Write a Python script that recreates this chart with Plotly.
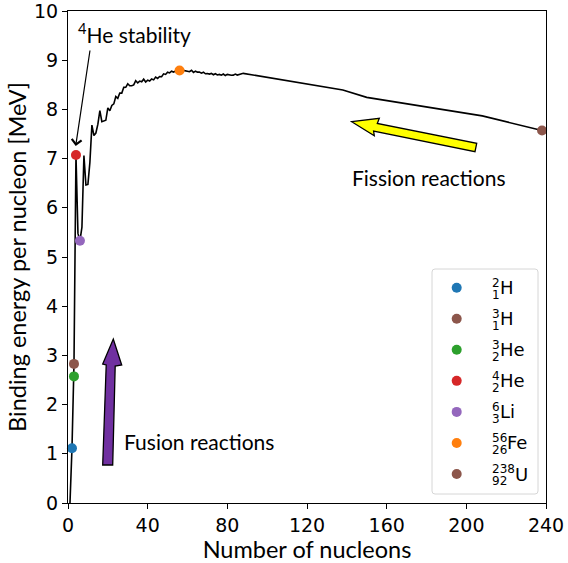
import plotly.graph_objects as go

# ---------------- data ----------------
# Binding energy per nucleon (MeV) vs mass number A (most bound nuclide per A)
mass_number = list(range(1, 89)) + [138, 150, 208, 238]
be_per_nucleon = [
    0.000, 1.112, 2.827, 7.074, 5.480, 5.332, 5.606, 7.062, 6.463, 6.475,
    6.928, 7.680, 7.470, 7.520, 7.699, 7.976, 7.751, 7.767, 7.779, 8.032,
    7.972, 8.080, 8.112, 8.261, 8.224, 8.334, 8.332, 8.448, 8.449, 8.521,
    8.481, 8.482, 8.498, 8.584, 8.538, 8.576, 8.560, 8.614, 8.557, 8.595,
    8.576, 8.617, 8.600, 8.658, 8.630, 8.669, 8.665, 8.723, 8.711, 8.756,
    8.742, 8.776, 8.760, 8.778, 8.765, 8.790, 8.770, 8.792, 8.780, 8.781,
    8.765, 8.795, 8.752, 8.777, 8.757, 8.760, 8.737, 8.756, 8.724, 8.729,
    8.718, 8.732, 8.705, 8.725, 8.701, 8.711, 8.695, 8.718, 8.688, 8.711,
    8.696, 8.693, 8.696, 8.717, 8.698, 8.712, 8.711, 8.733,
    8.393, 8.245, 7.868, 7.570,
]

iso_mass = ["2", "3", "3", "4", "6", "56", "238"]
iso_z = ["1", "1", "2", "2", "3", "26", "92"]
iso_sym = ["H", "H", "He", "He", "Li", "Fe", "U"]
iso_A = [2, 3, 3, 4, 6, 56, 238]
iso_be = [1.112, 2.827, 2.573, 7.074, 5.332, 8.790, 7.570]
iso_colors = ["#1f77b4", "#8c564b", "#2ca02c", "#d62728", "#9467bd", "#ff7f0e", "#8c564b"]

x_ticks = [0, 40, 80, 120, 160, 200, 240]
y_ticks = list(range(0, 11))

# ---------------- layout geometry ----------------
W, H = 568, 563
L, R, T, B = 68, 22, 11, 60
PW, PH = W - L - R, H - T - B


def px(x):
    return (x - L) / PW


def py(y):
    return (H - B - y) / PH


fig = go.Figure()

fig.add_trace(go.Scatter(
    x=mass_number, y=be_per_nucleon, mode="lines",
    line=dict(color="black", width=1.6), showlegend=False, hoverinfo="skip",
))

for A, be, c, m, z, s in zip(iso_A, iso_be, iso_colors, iso_mass, iso_z, iso_sym):
    fig.add_trace(go.Scatter(
        x=[A], y=[be], mode="markers",
        marker=dict(color=c, size=10, line=dict(width=0)),
        name=f"{m}-{s}", showlegend=False, cliponaxis=False,
    ))

shapes = []
annotations = []

# Fusion arrow (purple)
fus = [(102.7, 465), (112.7, 465), (115.2, 366), (121.7, 365), (113.3, 339),
       (102.7, 364), (106.2, 365)]
path = "M " + " L ".join(f"{px(a):.5f},{py(b):.5f}" for a, b in fus) + " Z"
shapes.append(dict(type="path", xref="paper", yref="paper", path=path,
                   fillcolor="#7030a0", line=dict(color="black", width=1.3)))

# Fission arrow (yellow)
fis = [(351.7, 121.7), (379.3, 118.3), (377.3, 123.5), (476.7, 143.3),
       (475.0, 151.7), (373.6, 131.0), (374.3, 135.7)]
path = "M " + " L ".join(f"{px(a):.5f},{py(b):.5f}" for a, b in fis) + " Z"
shapes.append(dict(type="path", xref="paper", yref="paper", path=path,
                   fillcolor="#ffff00", line=dict(color="black", width=1.3)))

TXT = dict(family="Lato", size=21, color="black")
# text labels
annotations.append(dict(xref="paper", yref="paper", x=px(350), y=py(177),
                        xanchor="left", yanchor="middle", showarrow=False,
                        text="Fission reactions", font=TXT))
annotations.append(dict(xref="paper", yref="paper", x=px(122), y=py(441),
                        xanchor="left", yanchor="middle", showarrow=False,
                        text="Fusion reactions", font=TXT))
annotations.append(dict(xref="paper", yref="paper", x=px(76), y=py(33),
                        xanchor="left", yanchor="middle", showarrow=False,
                        text="<sup>4</sup>He stability", font=TXT))
# arrow to 4He
annotations.append(dict(xref="paper", yref="paper", x=px(75.7), y=py(146),
                        axref="pixel", ayref="pixel", ax=14.5, ay=-97,
                        text="", showarrow=True, arrowhead=4, arrowsize=1.6,
                        arrowwidth=1.2, arrowcolor="black", standoff=0))

# custom legend
lg_x0, lg_x1, lg_y0, lg_y1 = 432, 538, 269, 494
r = 3
rx, ry = r / PW, r / PH
X0, X1, Y0, Y1 = px(lg_x0), px(lg_x1), py(lg_y1), py(lg_y0)
lpath = (f"M {X0+rx},{Y0} L {X1-rx},{Y0} Q {X1},{Y0} {X1},{Y0+ry} "
         f"L {X1},{Y1-ry} Q {X1},{Y1} {X1-rx},{Y1} L {X0+rx},{Y1} "
         f"Q {X0},{Y1} {X0},{Y1-ry} L {X0},{Y0+ry} Q {X0},{Y0} {X0+rx},{Y0} Z")
shapes.append(dict(type="path", xref="paper", yref="paper", path=lpath,
                   fillcolor="rgba(255,255,255,0.85)",
                   line=dict(color="#d6d6d6", width=1)))

row0, drow = 287.7, 31.05
digit_w = 7.6
for i, (m, z, s, c) in enumerate(zip(iso_mass, iso_z, iso_sym, iso_colors)):
    yc = row0 + i * drow
    shapes.append(dict(type="circle", xref="paper", yref="paper",
                       xsizemode="pixel", ysizemode="pixel",
                       xanchor=px(456.7), yanchor=py(yc),
                       x0=-5, x1=5, y0=-5, y1=5,
                       fillcolor=c, line=dict(width=0)))
    annotations.append(dict(xref="paper", yref="paper", x=px(490.5), y=py(yc - 5.0),
                            xanchor="left", yanchor="middle", showarrow=False,
                            text=m, borderpad=0,
                            font=dict(family="DejaVu Sans", size=12, color="black")))
    annotations.append(dict(xref="paper", yref="paper", x=px(490.5), y=py(yc + 7.0),
                            xanchor="left", yanchor="middle", showarrow=False,
                            text=z, borderpad=0,
                            font=dict(family="DejaVu Sans", size=12, color="black")))
    w = max(len(m), len(z)) * digit_w
    annotations.append(dict(xref="paper", yref="paper", x=px(490.5 + w + 0.5), y=py(yc),
                            xanchor="left", yanchor="middle", showarrow=False,
                            text=s, borderpad=0,
                            font=dict(family="DejaVu Sans", size=18, color="black")))

axis_common = dict(
    showgrid=False, zeroline=False, showline=True, mirror=True,
    linecolor="black", linewidth=1, ticks="outside", ticklen=5,
    tickwidth=1, tickcolor="black", automargin=False,
    ticklabeloverflow="allow",
    tickfont=dict(family="DejaVu Sans", size=19, color="black"),
)

fig.update_layout(
    width=W, height=H,
    margin=dict(l=L, r=R, t=T, b=B, pad=0),
    paper_bgcolor="white", plot_bgcolor="white",
    xaxis=dict(range=[0, 240], tickvals=x_ticks,
               title=dict(text="Number of nucleons", standoff=0,
                          font=dict(family="Lato", size=23.5, color="black")),
               **axis_common),
    yaxis=dict(range=[0, 10], tickvals=y_ticks,
               title=dict(text="Binding energy per nucleon [MeV]", standoff=0,
                          font=dict(family="Lato", size=23.5, color="black")),
               **axis_common),
    shapes=shapes, annotations=annotations,
)

fig.write_html("out.html", config={"displayModeBar": False},
               post_script="document.body.style.margin='0';document.body.style.padding='0';")
